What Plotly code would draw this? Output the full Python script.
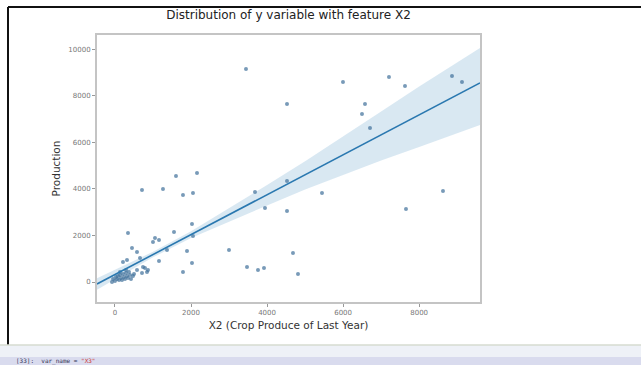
import plotly.graph_objects as go

# ---- data ----
x2_vals = [3445, 4524, 5996, 7206, 7627, 6575, 6496, 6707, 8863, 9126,
           1604, 2157, 710, 1262, 1788, 2051, 3682, 3945, 4524, 4524,
           5444, 8626, 7653, 342, 1552, 2025, 2051, 1052, 999, 1157,
           1368, 1894, 2998, 4681, 1157, 2025, 1788, 3472, 3761, 3919,
           4813, 447, 579, 658, 316, 210, 736, 842, 579, 789,
           868, 710, -50, 26, 79, 132, 158, 210, 237, 290,
           316, 368, 395, 105, 53, 184, 263, 342, 421, 473,
           500, 132, 290, 0, -79]
production = [9159, 7654, 8600, 8815, 8428, 7654, 7224, 6622, 8858, 8600,
              4558, 4687, 3956, 3999, 3741, 3827, 3870, 3182, 4343, 3053,
              3827, 3913, 3139, 2107, 2150, 2494, 1978, 1892, 1720, 1806,
              1376, 1333, 1376, 1247, 903, 817, 430, 645, 516, 602,
              344, 1462, 1290, 1032, 946, 860, 645, 430, 516, 602,
              516, 387, 130, 215, 258, 301, 172, 344, 215, 387,
              258, 430, 301, 86, 129, 86, 129, 172, 129, 258,
              344, 430, 516, 43, 0]

fit_x = [-473, 0, 1000, 2000, 3000, 4000, 5000, 6000, 7000, 8000, 9600]
fit_y = [-84, 322, 1180, 2038, 2896, 3754, 4612, 5470, 6328, 7186, 8559]
ci_upper = [166, 522, 1300, 2178, 3166, 4174, 5192, 6250, 7328, 8406, 10060]
ci_lower = [-334, 122, 1060, 1888, 2606, 3294, 3972, 4600, 5228, 5806, 6750]

x_ticks = [0, 2000, 4000, 6000, 8000]
y_ticks = [0, 2000, 4000, 6000, 8000, 10000]

title_text = "Distribution of y variable with feature X2"
x_label = "X2 (Crop Produce of Last Year)"
y_label = "Production"

# ---- figure ----
W, H = 641, 365
L, R, T, B = 97, 161, 35, 63
PW, PH = W - L - R, H - T - B


def px(x):
    return (x - L) / PW


def py(y):
    return (H - B - y) / PH


fig = go.Figure()
fig.add_trace(go.Scatter(x=fit_x, y=ci_lower, mode="lines",
                         line=dict(width=0), showlegend=False, hoverinfo="skip"))
fig.add_trace(go.Scatter(x=fit_x, y=ci_upper, mode="lines",
                         line=dict(width=0), fill="tonexty",
                         fillcolor="rgba(31,119,180,0.17)", showlegend=False,
                         hoverinfo="skip"))
fig.add_trace(go.Scatter(x=x2_vals, y=production, mode="markers",
                         marker=dict(size=4, color="#3f6f9a", opacity=0.7,
                                     line=dict(width=0)),
                         showlegend=False))
fig.add_trace(go.Scatter(x=fit_x, y=fit_y, mode="lines",
                         line=dict(color="#2a78b0", width=1.6), showlegend=False))

axis_common = dict(showgrid=False, zeroline=False, showline=True, mirror=True,
                   linecolor="#c4c4c4", linewidth=2, ticks="outside",
                   ticklen=3, tickcolor="#999", tickwidth=1,
                   tickfont=dict(family="DejaVu Sans", size=7, color="#777"))

fig.update_xaxes(range=[-473, 9600], tickvals=x_ticks,
                 ticktext=[str(v) for v in x_ticks],
                 title=dict(text=x_label, standoff=5,
                            font=dict(family="DejaVu Sans", size=10.5, color="#333")),
                 **axis_common)
fig.update_yaxes(range=[-860, 10620], tickvals=y_ticks,
                 ticktext=[str(v) for v in y_ticks],
                 title=dict(text=y_label, standoff=6,
                            font=dict(family="DejaVu Sans", size=10.5, color="#333")),
                 **axis_common)

shapes = [
    # notebook output frame
    dict(type="line", xref="paper", yref="paper", x0=px(8), x1=px(641),
         y0=py(7), y1=py(7), line=dict(color="#111", width=2)),
    dict(type="line", xref="paper", yref="paper", x0=px(8), x1=px(8),
         y0=py(7), y1=py(345), line=dict(color="#111", width=2)),
    dict(type="rect", xref="paper", yref="paper", x0=px(0), x1=px(641),
         y0=py(345), y1=py(357), fillcolor="#eef1f7",
         line=dict(width=0), layer="below"),
    dict(type="line", xref="paper", yref="paper", x0=px(0), x1=px(641),
         y0=py(345), y1=py(345), line=dict(color="#d6dbd0", width=1.5)),
    dict(type="rect", xref="paper", yref="paper", x0=px(0), x1=px(641),
         y0=py(357), y1=py(366), fillcolor="#d9dbee",
         line=dict(width=0), layer="below"),
]

fig.update_layout(
    width=W, height=H,
    margin=dict(l=L, r=R, t=T, b=B),
    paper_bgcolor="white", plot_bgcolor="white",
    title=dict(text=title_text, x=(L + PW / 2) / W, xanchor="center",
               y=1 - 15 / H, yanchor="middle",
               font=dict(family="DejaVu Sans", size=12, color="#222")),
    shapes=shapes,
    annotations=[dict(text='[33]:  var_name = <span style="color:#c33">"X3"</span>',
                      xref="paper", yref="paper", x=px(14), y=py(360.5),
                      xanchor="left", yanchor="middle", showarrow=False,
                      font=dict(family="DejaVu Sans Mono", size=6, color="#335"))],
)

fig.write_html("out.html")
